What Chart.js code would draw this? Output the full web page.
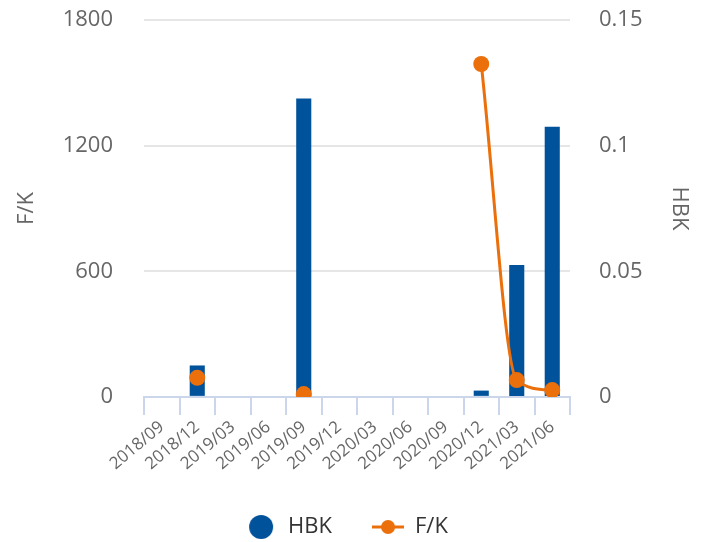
<!DOCTYPE html>
<html>
<head>
<meta charset="utf-8">
<script src="https://cdn.jsdelivr.net/npm/chart.js@4.4.1/dist/chart.umd.min.js"></script>
<style>
  html, body { margin: 0; padding: 0; background: #fff; }
  #wrap { width: 713px; height: 542px; }
</style>
</head>
<body>
<div id="wrap"><canvas id="myChart"></canvas></div>
<script>
// categorias (trimestres)
const categorias = ['2018/09', '2018/12', '2019/03', '2019/06', '2019/09', '2019/12',
  '2020/03', '2020/06', '2020/09', '2020/12', '2021/03', '2021/06'];
// barras HBK (eixo esquerdo)
const valoresHBK = [null, 150, null, null, 1425, null, null, null, null, 30, 630, 1290];
// linha F/K (eixo direito)
const valoresFK = [null, 0.0076, null, null, 0.0011, null, null, null, null, 0.1325, 0.0067, 0.0027];
// ticks dos eixos
const ticksEsquerda = [0, 600, 1200, 1800];
const ticksDireita = [0, 0.05, 0.1, 0.15];

const azul = '#00529b';
const laranja = '#eb6f0b';
const fonte = "'Open Sans', sans-serif";

// marcadores da legenda
function marcador(tipo) {
  const c = document.createElement('canvas');
  c.width = 32; c.height = 24;
  const g = c.getContext('2d');
  if (tipo === 'circulo') {
    g.fillStyle = azul;
    g.beginPath(); g.arc(16, 12, 12, 0, Math.PI * 2); g.fill();
  } else {
    g.strokeStyle = laranja; g.lineWidth = 3;
    g.beginPath(); g.moveTo(0, 12); g.lineTo(32, 12); g.stroke();
    g.fillStyle = laranja;
    g.beginPath(); g.arc(16, 12, 7, 0, Math.PI * 2); g.fill();
  }
  return c;
}

const ctx = document.getElementById('myChart').getContext('2d');
const myChart = new Chart(ctx, {
  data: {
    labels: categorias,
    datasets: [
      {
        type: 'bar',
        label: 'HBK',
        data: valoresHBK,
        yAxisID: 'y',
        backgroundColor: azul,
        categoryPercentage: 0.85,
        barPercentage: 0.5,
        order: 2
      },
      {
        type: 'line',
        label: 'F/K',
        data: valoresFK,
        yAxisID: 'y1',
        borderColor: laranja,
        backgroundColor: laranja,
        borderWidth: 3,
        pointRadius: 8,
        pointHoverRadius: 8,
        pointBorderWidth: 0,
        cubicInterpolationMode: 'monotone',
        spanGaps: false,
        order: 1
      }
    ]
  },
  options: {
    responsive: true,
    maintainAspectRatio: false,
    animation: false,
    // padding direito desloca a legenda para a esquerda
    layout: { padding: { left: 0, right: 20, top: 0, bottom: -6 } },
    scales: {
      x: {
        offset: true,
        grid: {
          offset: true,
          drawOnChartArea: false,
          drawTicks: true,
          tickLength: 18,
          color: '#ccd6eb',
          lineWidth: 2
        },
        border: { color: '#ccd6eb', width: 2 },
        ticks: {
          color: '#666',
          font: { family: fonte, size: 17 },
          maxRotation: 40,
          minRotation: 40,
          padding: 2,
          autoSkip: false
        }
      },
      y: {
        position: 'left',
        min: 0,
        max: 1800,
        afterBuildTicks: (axis) => { axis.ticks = ticksEsquerda.map(v => ({ value: v })); },
        afterFit: (axis) => { axis.width = 144; axis.paddingTop = 20; },
        grid: { color: '#e6e6e6', lineWidth: 2, drawTicks: false },
        border: { display: false },
        ticks: { color: '#666', font: { family: fonte, size: 22 }, padding: 31, callback: v => String(v) },
        title: {
          display: true,
          text: 'F/K',
          color: '#666',
          font: { family: fonte, size: 22 },
          padding: { top: 14, bottom: 0 }
        }
      },
      y1: {
        position: 'right',
        min: 0,
        max: 0.15,
        afterBuildTicks: (axis) => { axis.ticks = ticksDireita.map(v => ({ value: v })); },
        afterFit: (axis) => { axis.width = 123; axis.paddingTop = 20; },
        grid: { drawOnChartArea: false, drawTicks: false },
        border: { display: false },
        ticks: { color: '#666', font: { family: fonte, size: 22 }, padding: 29, callback: v => String(v) },
        title: {
          display: true,
          text: 'HBK',
          color: '#666',
          font: { family: fonte, size: 22 },
          padding: { top: 1, bottom: 0 }
        }
      }
    },
    plugins: {
      legend: {
        position: 'bottom',
        labels: {
          usePointStyle: true,
          pointStyleWidth: 32,
          padding: 40,
          color: '#333',
          font: { family: fonte, size: 22 },
          generateLabels: () => [
            { text: 'HBK', pointStyle: marcador('circulo'), fillStyle: azul, strokeStyle: azul, lineWidth: 0, datasetIndex: 0, fontColor: '#333' },
            { text: 'F/K', pointStyle: marcador('linha'), fillStyle: laranja, strokeStyle: laranja, lineWidth: 0, datasetIndex: 1, fontColor: '#333' }
          ]
        }
      },
      tooltip: { enabled: false }
    }
  }
});
</script>
</body>
</html>
